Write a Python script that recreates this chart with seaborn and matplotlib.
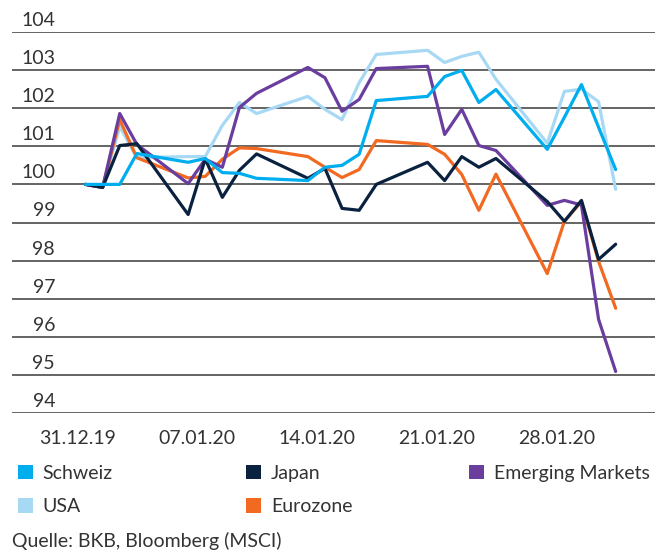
import pandas as pd
import numpy as np
import seaborn as sns
import matplotlib.pyplot as plt
import matplotlib.dates as mdates
from matplotlib.patches import Patch
from matplotlib.transforms import ScaledTranslation

# trading days (calendar positions on the axis)
dates = ["2019-12-31", "2020-01-01", "2020-01-02", "2020-01-03", "2020-01-06",
         "2020-01-07", "2020-01-08", "2020-01-09", "2020-01-10", "2020-01-13",
         "2020-01-14", "2020-01-15", "2020-01-16", "2020-01-17", "2020-01-20",
         "2020-01-21", "2020-01-22", "2020-01-23", "2020-01-24", "2020-01-27",
         "2020-01-28", "2020-01-29", "2020-01-30", "2020-01-31"]

schweiz = [100.0, 100.0, 100.0, 100.81, 100.58, 100.68, 100.31, 100.29, 100.16, 100.10,
           100.45, 100.50, 100.79, 102.20, 102.31, 102.83, 102.99, 102.15, 102.49, 100.92,
           101.76, 102.62, 101.50, 100.39]
usa = [100.0, 99.92, 101.52, 100.70, 100.73, 100.73, 101.55, 102.15, 101.86, 102.31,
       101.97, 101.70, 102.67, 103.41, 103.52, 103.20, 103.36, 103.47, 102.76, 101.08,
       102.44, 102.50, 102.17, 99.87]
japan = [100.0, 99.92, 101.02, 101.07, 99.21, 100.67, 99.66, 100.37, 100.80, 100.16,
         100.42, 99.37, 99.32, 100.0, 100.58, 100.10, 100.73, 100.45, 100.68, 99.55,
         99.03, 99.58, 98.03, 98.43]
eurozone = [100.0, 99.92, 101.70, 100.70, 100.17, 100.21, 100.66, 100.96, 100.94, 100.73,
            100.45, 100.18, 100.39, 101.15, 101.05, 100.79, 100.26, 99.32, 100.27, 97.66,
            99.03, 99.55, 97.98, 96.75]
emerging = [100.0, 99.92, 101.86, 101.05, 100.02, 100.66, 100.45, 102.02, 102.39, 103.07,
            102.80, 101.92, 102.23, 103.04, 103.10, 101.31, 101.97, 101.02, 100.89, 99.45,
            99.58, 99.46, 96.46, 95.09]

names = ["Schweiz", "USA", "Japan", "Eurozone", "Emerging Markets"]
colors = {"Schweiz": "#00ADEE", "USA": "#A7D9F4", "Japan": "#0A2240",
          "Eurozone": "#F26A21", "Emerging Markets": "#6A3E9E"}
y_ticks = [94, 95, 96, 97, 98, 99, 100, 101, 102, 103, 104]
x_ticks = ["2019-12-31", "2020-01-07", "2020-01-14", "2020-01-21", "2020-01-28"]
x_labels = ["31.12.19", "07.01.20", "14.01.20", "21.01.20", "28.01.20"]
source = "Quelle: BKB, Bloomberg (MSCI)"

df = pd.DataFrame({"Datum": pd.to_datetime(dates), "Schweiz": schweiz, "USA": usa,
                   "Japan": japan, "Eurozone": eurozone, "Emerging Markets": emerging})
long_df = df.melt(id_vars="Datum", var_name="Index", value_name="Wert")

sns.set_style("white")
plt.rcParams["font.family"] = ["Lato", "DejaVu Sans"]
txt = "#333333"
fs = 14

fig = plt.figure(figsize=(6.63, 5.52), dpi=100)
ax = fig.add_axes([12 / 663, 1 - 413 / 552, 643 / 663, 381 / 552])

# drawing order: light ones first
draw_order = ["USA", "Eurozone", "Emerging Markets", "Japan", "Schweiz"]
for name in draw_order:
    sub = long_df[long_df["Index"] == name]
    sns.lineplot(data=sub, x="Datum", y="Wert", color=colors[name], linewidth=2.3,
                 ax=ax, legend=False)

ax.set_ylim(94, 104)
start = pd.Timestamp("2019-12-31")
ax.set_xlim(start - pd.Timedelta(days=4.3), start + pd.Timedelta(days=33.3))
ax.set_xlabel("")
ax.set_ylabel("")

for s in ax.spines.values():
    s.set_visible(False)
ax.set_yticks(y_ticks)
ax.yaxis.grid(True, color="#3a3a3a", linewidth=1.1)
ax.xaxis.grid(False)
ax.set_axisbelow(True)

ax.set_xticks(pd.to_datetime(x_ticks))
ax.set_xticklabels(x_labels)
ax.tick_params(axis="x", length=0, pad=12, labelsize=fs, labelcolor=txt)
ax.tick_params(axis="y", length=0, pad=-31, labelsize=fs, labelcolor=txt)

dx = ScaledTranslation(-8 / 100, 0, fig.dpi_scale_trans)
for lab in ax.get_xticklabels():
    lab.set_transform(lab.get_transform() + dx)
dy = ScaledTranslation(0, 3 / 100, fig.dpi_scale_trans)
for lab in ax.get_yticklabels():
    lab.set_verticalalignment("bottom")
    lab.set_transform(lab.get_transform() + dy)

# legend in three columns
cols = [["Schweiz", "USA"], ["Japan", "Eurozone"], ["Emerging Markets"]]
col_x = [2, 230, 453]
for group, xpos in zip(cols, col_x):
    handles = [Patch(facecolor=colors[n], edgecolor="none") for n in group]
    fig.legend(handles, group, loc="upper left", bbox_to_anchor=(xpos / 663, 1 - 449 / 552),
               frameon=False, fontsize=fs, labelcolor=txt, handlelength=0.8,
               handleheight=0.8, handletextpad=0.5, labelspacing=0.85, borderpad=0.3)

fig.text(12 / 663, 1 - 541 / 552, source, fontsize=fs, color=txt, va="center", ha="left")

fig.savefig("out.png", dpi=100)
